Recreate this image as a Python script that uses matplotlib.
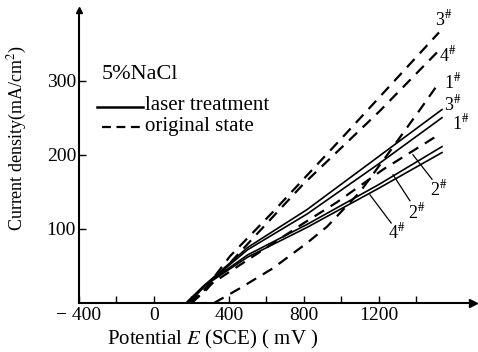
import matplotlib
matplotlib.use('Agg')
import matplotlib.pyplot as plt

# Curvas (potencial en mV, densidad de corriente en mA/cm2)
# estado original (discontinuas)
orig3_x = [190, 270, 405, 635, 1000, 1520]
orig3_y = [0, 18, 63, 123, 222, 365]
orig4_x = [200, 280, 420, 795, 1200, 1509]
orig4_y = [0, 18, 58, 160, 258, 338]
orig1_x = [320, 459, 635, 816, 923, 1099, 1259, 1419, 1525]
orig1_y = [0, 20, 47, 81, 103, 150, 205, 261, 299]
orig2_x = [200, 300, 800, 976, 1221, 1525]
orig2_y = [0, 25, 108, 136, 180, 228]
# tratamiento láser (continuas)
laser3_x = [170, 260, 500, 816, 1200, 1536]
laser3_y = [0, 22, 75, 126, 198, 261]
laser1_x = [175, 265, 500, 816, 1200, 1536]
laser1_y = [0, 22, 72, 120, 188, 250]
laser2_x = [180, 270, 500, 816, 1200, 1536]
laser2_y = [0, 24, 65, 106, 160, 211]
laser4_x = [185, 280, 500, 816, 1200, 1536]
laser4_y = [0, 25, 62, 102, 155, 203]

xticks = [-400, -200, 0, 200, 400, 600, 800, 1000, 1200, 1400]
xticklabels = ['\u2212 400', '', '0', '', '400', '', '800', '', '1200', '']
yticks = [100, 200, 300]

plt.rcParams['font.family'] = ['Liberation Serif', 'DejaVu Serif']
plt.rcParams['mathtext.fontset'] = 'stix'

fig = plt.figure(figsize=(4.78, 3.52), dpi=100)
ax = fig.add_axes([0.165, 0.139, 0.824, 0.832])

dash = (0, (5, 3.5))
for xs, ys in [(orig3_x, orig3_y), (orig4_x, orig4_y), (orig1_x, orig1_y), (orig2_x, orig2_y)]:
    ax.plot(xs, ys, color='black', lw=1.6, linestyle=dash)
for xs, ys in [(laser3_x, laser3_y), (laser1_x, laser1_y), (laser2_x, laser2_y), (laser4_x, laser4_y)]:
    ax.plot(xs, ys, color='black', lw=1.2)

ax.set_xlim(-400, 1700)
ax.set_ylim(0, 395)
ax.spines['top'].set_visible(False)
ax.spines['right'].set_visible(False)
ax.spines['left'].set_linewidth(1.5)
ax.spines['bottom'].set_linewidth(1.5)
ax.plot(1, 0, '>k', ms=6, transform=ax.transAxes, clip_on=False)
ax.plot(0, 1, '^k', ms=5, transform=ax.transAxes, clip_on=False)

ax.set_xticks(xticks)
ax.set_xticklabels(xticklabels, fontsize=14)
ax.set_yticks(yticks)
ax.set_yticklabels([str(v) for v in yticks], fontsize=14)
ax.tick_params(axis='x', direction='in', length=5, width=1, pad=3)
ax.tick_params(axis='y', direction='in', length=5, width=1, pad=2)

ax.text(0.34, -0.125, 'Potential $E$ (SCE) ( mV )', fontsize=15,
        transform=ax.transAxes, ha='center', va='center')
ax.text(-0.155, 0.563, 'Current density(mA/cm$^2$)', fontsize=13, rotation=90,
        transform=ax.transAxes, ha='center', va='center')

# texto y leyenda
ax.text(-277, 308, '5%NaCl', fontsize=16, va='center')
ax.plot([-304, -59], [265, 265], color='black', lw=1.8)
ax.text(-48, 266, 'laser treatment', fontsize=15, va='center')
ax.plot([-277, -59], [238, 238], color='black', lw=1.6, linestyle=(0, (4, 2.5)))
ax.text(-48, 238, 'original state', fontsize=15, va='center')

lab = '{}$^{{\\#}}$'
labels_x = [1499, 1520, 1547, 1547, 1589, 1472, 1355, 1248]
labels_y = [382, 334, 298, 268, 242, 153, 122, 95]
labels_n = [3, 4, 1, 3, 1, 2, 2, 4]
for lx, ly, n in zip(labels_x, labels_y, labels_n):
    ax.text(lx, ly, lab.format(n), fontsize=13, va='center', ha='left')
ax.plot([1381, 1483], [200, 167], color='black', lw=0.9)
ax.plot([1275, 1365], [173, 138], color='black', lw=0.9)
ax.plot([1152, 1265], [146, 108], color='black', lw=0.9)

fig.savefig('out.png', dpi=100)
plt.close(fig)
